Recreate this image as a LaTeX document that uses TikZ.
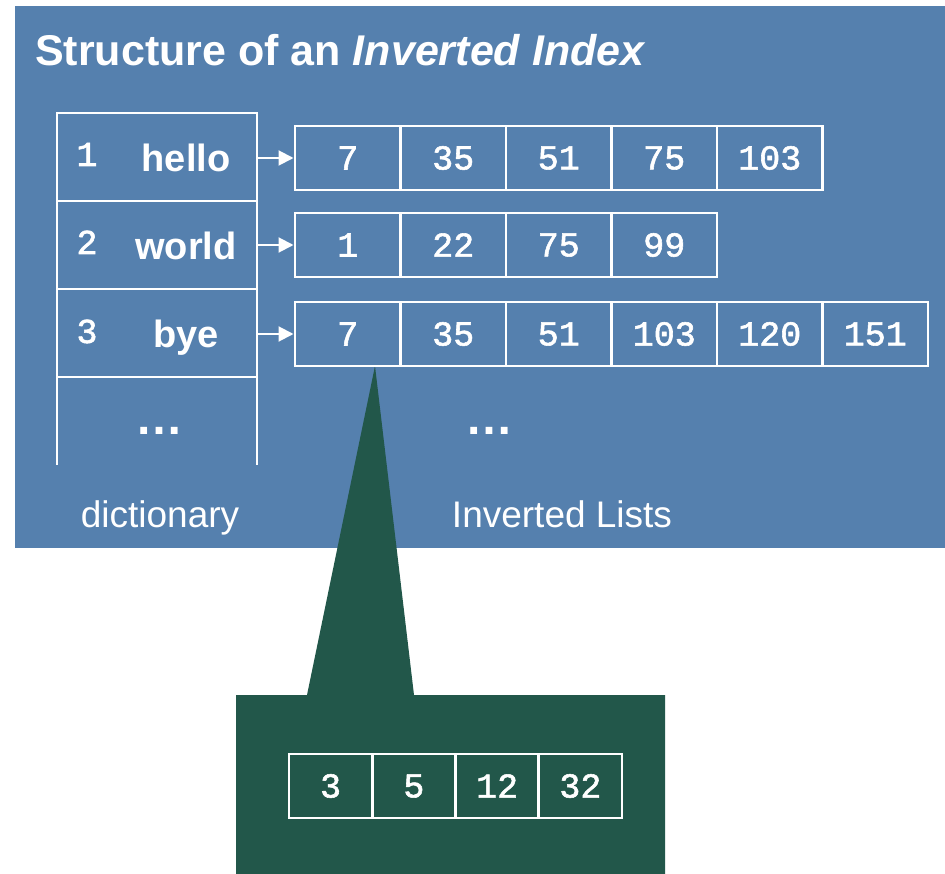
\documentclass[tikz,border=0pt]{standalone}
\usepackage{fontspec}
\setmainfont{Liberation Sans}
\setmonofont{Liberation Mono}
\newfontfamily\postingfont[FakeBold=1.6]{Liberation Mono}
\usetikzlibrary{arrows.meta}
\definecolor{panelblue}{RGB}{85,128,174}
\definecolor{zoomgreen}{RGB}{34,87,74}
\begin{document}
\begin{tikzpicture}[x=1pt,y=-1pt,
  wire/.style={draw=white, line width=2.6pt},
  cell/.style={wire, minimum width=105.5pt, minimum height=64pt, inner sep=0pt,
    outer sep=0pt, anchor=west, text=white,
    font=\fontsize{35}{40}\selectfont\postingfont},
  smallcell/.style={cell, minimum width=83.25pt},
  dictrow/.style={wire, minimum width=200pt, minimum height=88pt, inner sep=0pt, outer sep=0pt},
  label/.style={text=white, inner sep=0pt, anchor=base},
  dictnum/.style={label, font=\fontsize{35}{40}\selectfont\postingfont},
  word/.style={label, font=\fontsize{38}{44}\selectfont\bfseries},
  caption/.style={label, font=\fontsize{37}{42}\selectfont},
  dotsmark/.style={label, font=\fontsize{48}{52}\selectfont\bfseries},
  link/.style={draw=white, line width=2pt, -{Triangle[length=15pt,width=15pt]}, shorten >=1.5pt}]
\useasboundingbox (0,0) rectangle (945,874);

% background panel
\fill[panelblue] (15,6) rectangle (945,548);

% zoom callout pointing at the first posting of the third list
\coordinate (apex) at (375,366);
\fill[zoomgreen] (apex) -- (414,695) -- (665,695) -- (665,874) -- (236,874)
  -- (236,695) -- (307,695) -- cycle;

% title
\node[label, anchor=base west, font=\fontsize{43}{48}\selectfont\bfseries] (title)
  at (35,66) {Structure of an \textit{Inverted Index}};

% dictionary
\node[dictrow] (d1) at (157,157) {};
\node[dictrow] (d2) at (157,245) {};
\node[dictrow] (d3) at (157,333) {};
\draw[wire] (d3.south west) -- ++(0,88);
\draw[wire] (d3.south east) -- ++(0,88);

\node[dictnum] (n1) at (87,166) {1};
\node[dictnum] (n2) at (87,254) {2};
\node[dictnum] (n3) at (87,343) {3};
\node[word] (w1) at (186,172) {hello};
\node[word] (w2) at (186,260) {world};
\node[word] (w3) at (186,348) {bye};
\node[dotsmark] (dictdots) at (159,435) {…};

% inverted lists
\foreach \v [count=\i] in {7,35,51,75,103}
  \node[cell] (r1c\i) at ({295+(\i-1)*105.5},158) {\v};
\foreach \v [count=\i] in {1,22,75,99}
  \node[cell] (r2c\i) at ({295+(\i-1)*105.5},245) {\v};
\foreach \v [count=\i] in {7,35,51,103,120,151}
  \node[cell] (r3c\i) at ({295+(\i-1)*105.5},334) {\v};
\node[dotsmark] (listdots) at (489,435) {…};

% pointers from dictionary entries to their lists
\draw[link] (d1.east |- r1c1.west) -- (r1c1.west);
\draw[link] (d2.east |- r2c1.west) -- (r2c1.west);
\draw[link] (d3.east |- r3c1.west) -- (r3c1.west);

% captions
\node[caption] (dictcap) at (160,527) {dictionary};
\node[caption] (listcap) at (562,527) {Inverted Lists};

% expanded posting
\foreach \v [count=\i] in {3,5,12,32}
  \node[smallcell] (z\i) at ({289+(\i-1)*83.25},786) {\v};
\end{tikzpicture}
\end{document}
